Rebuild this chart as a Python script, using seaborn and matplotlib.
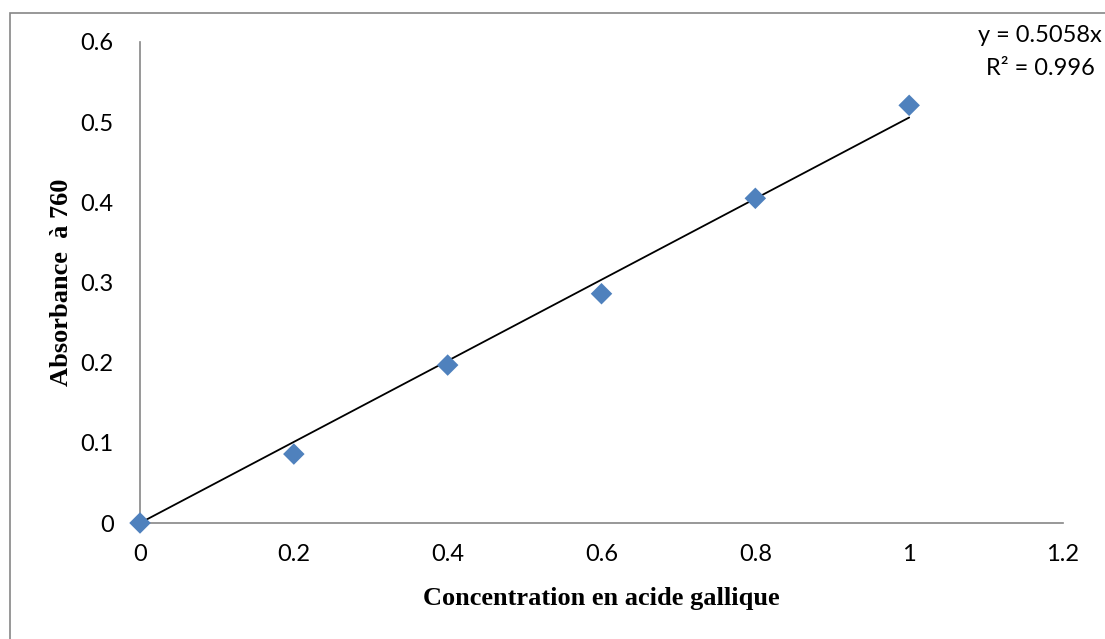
import numpy as np
import pandas as pd
import matplotlib
matplotlib.use("Agg")
import matplotlib.pyplot as plt
from matplotlib.patches import Rectangle
import seaborn as sns

# Calibration data: gallic acid concentration vs absorbance
concentration = [0.0, 0.2, 0.4, 0.6, 0.8, 1.0]
absorbance = [0.0, 0.086, 0.197, 0.286, 0.405, 0.521]
slope = 0.5058
r_squared = 0.996
x_ticks = [0, 0.2, 0.4, 0.6, 0.8, 1.0, 1.2]
y_ticks = [0, 0.1, 0.2, 0.3, 0.4, 0.5, 0.6]

sns.set_style("white")
plt.rcParams["font.family"] = ["Lato", "DejaVu Sans"]
plt.rcParams["text.color"] = "black"
plt.rcParams["axes.labelcolor"] = "black"

df = pd.DataFrame({"conc": concentration, "abs": absorbance})
fit = pd.DataFrame({"conc": [0.0, 1.0]})
fit["abs"] = slope * fit["conc"]

fig = plt.figure(figsize=(11.05, 6.39), dpi=100)
ax = fig.add_axes([140 / 1105, 1 - 523 / 639, (1063 - 140) / 1105, (523 - 42) / 639])

axis_grey = "#868686"

sns.lineplot(data=fit, x="conc", y="abs", ax=ax, color="black", linewidth=1.3, zorder=2)
sns.scatterplot(data=df, x="conc", y="abs", ax=ax, marker="D", s=120,
                color="#4F81BD", edgecolor="none", zorder=3, clip_on=False)

ax.set_xlim(0, 1.2)
ax.set_ylim(0, 0.6)
ax.set_xticks(x_ticks)
ax.set_xticklabels([f"{v:g}" for v in x_ticks])
ax.set_yticks(y_ticks)
ax.set_yticklabels([f"{v:g}" for v in y_ticks])

for side in ("top", "right"):
    ax.spines[side].set_visible(False)
for side in ("left", "bottom"):
    ax.spines[side].set_color(axis_grey)
    ax.spines[side].set_linewidth(1.2)

ax.tick_params(axis="both", direction="out", length=7, width=1.2, color=axis_grey,
               labelsize=17, labelcolor="black")
ax.tick_params(axis="x", pad=8)
ax.tick_params(axis="y", pad=12)

ax.set_xlabel("Concentration en acide gallique", fontsize=19, fontweight="bold",
              family="Liberation Serif", labelpad=16, color="black")
ax.set_ylabel("Absorbance  à 760", fontsize=19, fontweight="bold",
              family="Liberation Serif", labelpad=5, color="black")

fig.text(1040 / 1105, 1 - 52 / 639, f"y = {slope}x\nR² = {r_squared}",
         ha="center", va="center", fontsize=17, linespacing=1.65, color="black")

# Chart area frame
fig.patches.append(Rectangle((10 / 1105, -0.05), 1.2, 1 - 13 / 639 + 0.05,
                             transform=fig.transFigure, fill=False,
                             edgecolor=axis_grey, linewidth=1.2))

fig.savefig("out.png", dpi=100)
